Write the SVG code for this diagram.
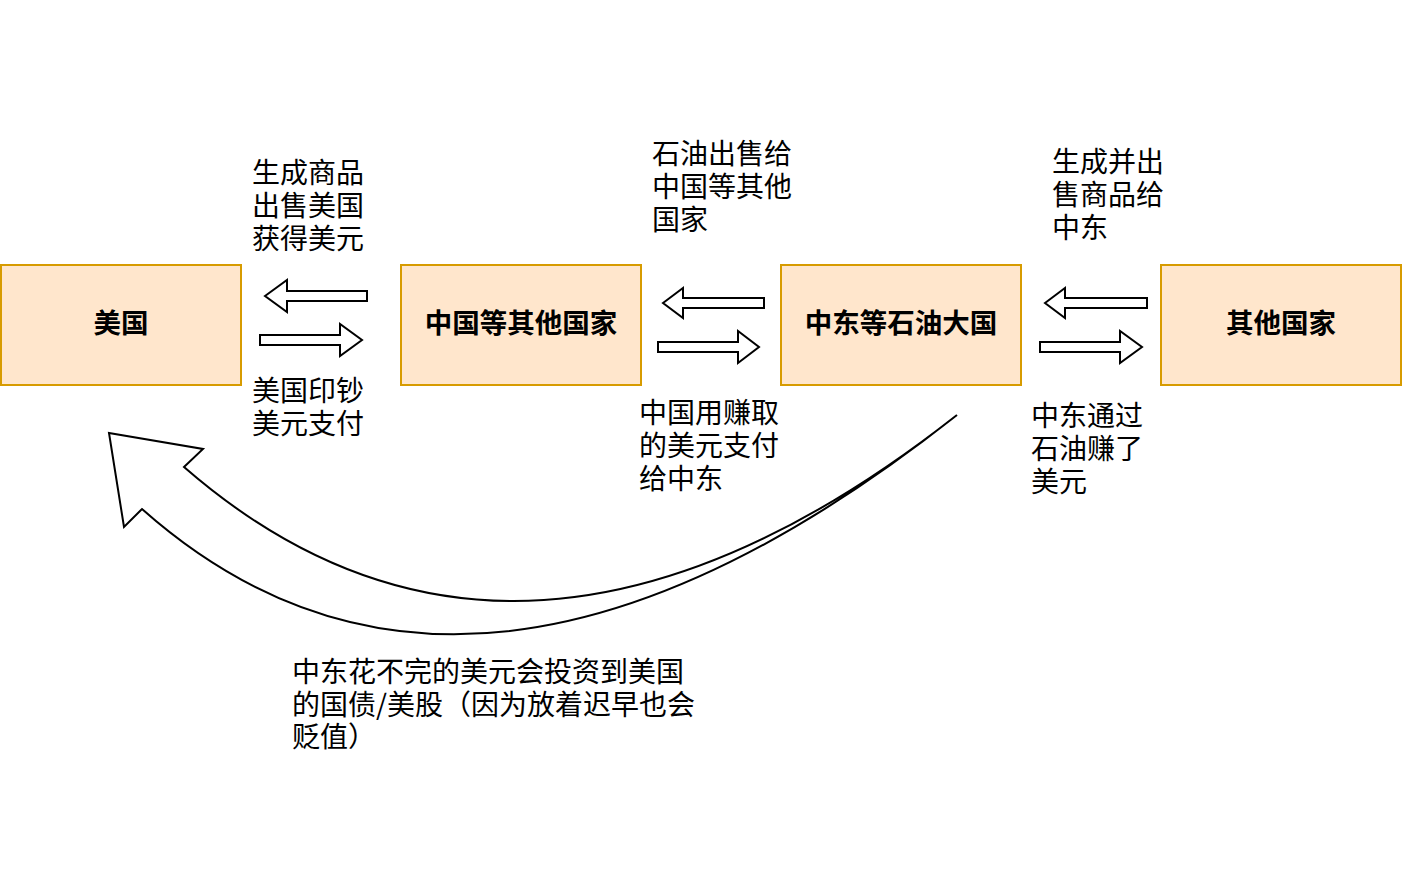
<svg xmlns="http://www.w3.org/2000/svg" width="1402" height="890" viewBox="0 0 1402 890">
<style>
.box{fill:#ffe6cc;stroke:#d79b00;stroke-width:2}
.bt{font-family:"Noto Sans CJK SC","Noto Sans",sans-serif;font-size:27.5px;font-weight:bold;fill:#000;text-anchor:middle}
.lb{font-family:"Noto Sans CJK SC","Noto Sans",sans-serif;font-size:28px;fill:#000}
.ar{fill:#fff;stroke:#000;stroke-width:2;stroke-linejoin:miter}
</style>
<rect width="1402" height="890" fill="#fff"/>
<g id="connectors">
<polygon class="ar" points="265,296 287,280 287,291 367,291 367,301 287,301 287,312"/>
<polygon class="ar" points="260,335 340,335 340,324 362,340 340,356 340,345 260,345"/>
<polygon class="ar" points="663,303 683,288 683,298 764,298 764,308 683,308 683,318"/>
<polygon class="ar" points="658,342 738,342 738,331 759,347 738,363 738,352 658,352"/>
<polygon class="ar" points="1045,303 1065,288 1065,298 1147,298 1147,308 1065,308 1065,318"/>
<polygon class="ar" points="1040,342 1120,342 1120,331 1142,347 1120,363 1120,352 1040,352"/>
<path class="ar" d="M957,415 Q470,800 142,509 L124,527 L109,433 L203,449 L184,467 Q519.5,759 957,415 Z"/>
</g>
<g id="node-usa">
<rect class="box" x="1" y="265" width="240" height="120"/>
<text class="bt" x="121" y="333">美国</text>
</g>
<g id="node-china">
<rect class="box" x="401" y="265" width="240" height="120"/>
<text class="bt" x="521" y="333">中国等其他国家</text>
</g>
<g id="node-mideast">
<rect class="box" x="781" y="265" width="240" height="120"/>
<text class="bt" x="901" y="333">中东等石油大国</text>
</g>
<g id="node-others">
<rect class="box" x="1161" y="265" width="240" height="120"/>
<text class="bt" x="1281" y="333">其他国家</text>
</g>
<g id="labels">
<text class="lb" x="252"><tspan x="252" y="183">生成商品</tspan><tspan x="252" y="216">出售美国</tspan><tspan x="252" y="249">获得美元</tspan></text>
<text class="lb" x="252"><tspan x="252" y="401">美国印钞</tspan><tspan x="252" y="434">美元支付</tspan></text>
<text class="lb" x="652"><tspan x="652" y="164">石油出售给</tspan><tspan x="652" y="197">中国等其他</tspan><tspan x="652" y="230">国家</tspan></text>
<text class="lb" x="1052"><tspan x="1052" y="172">生成并出</tspan><tspan x="1052" y="205">售商品给</tspan><tspan x="1052" y="238">中东</tspan></text>
<text class="lb" x="639"><tspan x="639" y="423">中国用赚取</tspan><tspan x="639" y="456">的美元支付</tspan><tspan x="639" y="489">给中东</tspan></text>
<text class="lb" x="1031"><tspan x="1031" y="426">中东通过</tspan><tspan x="1031" y="459">石油赚了</tspan><tspan x="1031" y="492">美元</tspan></text>
<text class="lb" x="292"><tspan x="292" y="682">中东花不完的美元会投资到美国</tspan><tspan x="292" y="715">的国债/美股（因为放着迟早也会</tspan><tspan x="292" y="747">贬值）</tspan></text>
</g>
</svg>
